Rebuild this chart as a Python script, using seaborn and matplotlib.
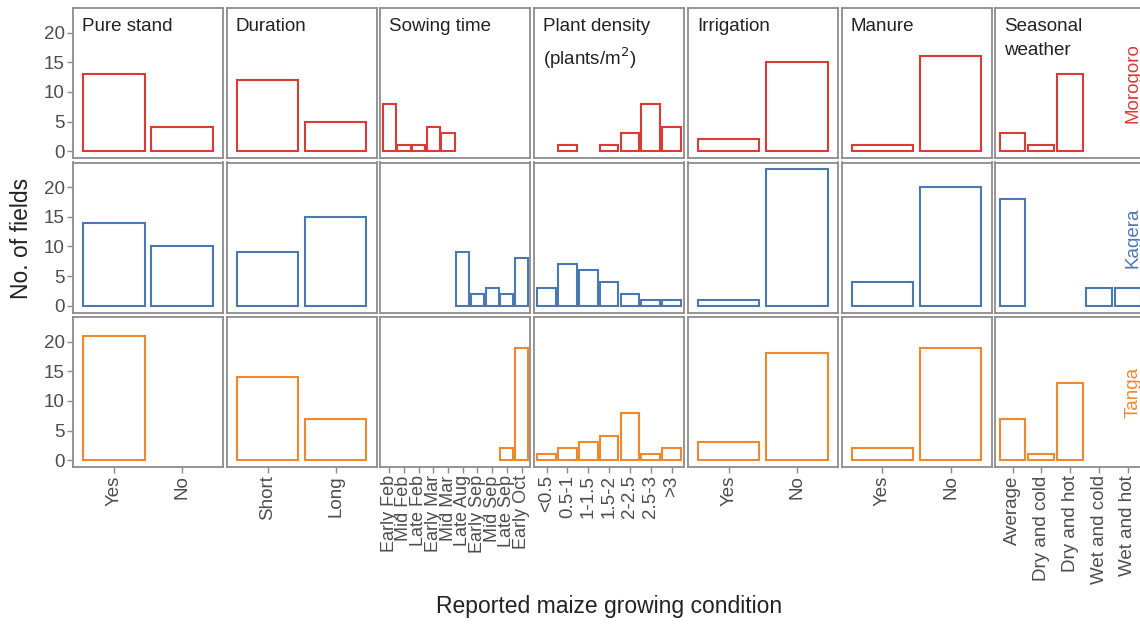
import numpy as np
import pandas as pd
import seaborn as sns
import matplotlib.pyplot as plt

# Regions (facet rows) and their colours
regions = ["Morogoro", "Kagera", "Tanga"]
region_colors = ["#D93B35", "#4A78B2", "#F0892E"]

# Growing conditions (facet columns)
conditions = ["Pure stand", "Duration", "Sowing time", "Plant density\n(plants/m$^2$)",
              "Irrigation", "Manure", "Seasonal\nweather"]

pure_stand_cats = ["Yes", "No"]
duration_cats = ["Short", "Long"]
sowing_cats = ["Early Feb", "Mid Feb", "Late Feb", "Early Mar", "Mid Mar",
               "Late Aug", "Early Sep", "Mid Sep", "Late Sep", "Early Oct"]
density_cats = ["<0.5", "0.5-1", "1-1.5", "1.5-2", "2-2.5", "2.5-3", ">3"]
irrigation_cats = ["Yes", "No"]
manure_cats = ["Yes", "No"]
weather_cats = ["Average", "Dry and cold", "Dry and hot", "Wet and cold", "Wet and hot"]

# Number of fields, per region (Morogoro, Kagera, Tanga)
pure_stand = {"Morogoro": [13, 4], "Kagera": [14, 10], "Tanga": [21, 0]}
duration = {"Morogoro": [12, 5], "Kagera": [9, 15], "Tanga": [14, 7]}
sowing = {"Morogoro": [8, 1, 1, 4, 3, 0, 0, 0, 0, 0],
          "Kagera": [0, 0, 0, 0, 0, 9, 2, 3, 2, 8],
          "Tanga": [0, 0, 0, 0, 0, 0, 0, 0, 2, 19]}
density = {"Morogoro": [0, 1, 0, 1, 3, 8, 4],
           "Kagera": [3, 7, 6, 4, 2, 1, 1],
           "Tanga": [1, 2, 3, 4, 8, 1, 2]}
irrigation = {"Morogoro": [2, 15], "Kagera": [1, 23], "Tanga": [3, 18]}
manure = {"Morogoro": [1, 16], "Kagera": [4, 20], "Tanga": [2, 19]}
weather = {"Morogoro": [3, 1, 13, 0, 0],
           "Kagera": [18, 0, 0, 3, 3],
           "Tanga": [7, 1, 13, 0, 0]}

col_cats = [pure_stand_cats, duration_cats, sowing_cats, density_cats,
            irrigation_cats, manure_cats, weather_cats]
col_vals = [pure_stand, duration, sowing, density, irrigation, manure, weather]

# long table
rows = []
for c, (cats, vals) in enumerate(zip(col_cats, col_vals)):
    for reg in regions:
        for cat, v in zip(cats, vals[reg]):
            rows.append({"condition": c, "region": reg, "category": cat, "count": v})
df = pd.DataFrame(rows)

sns.set_style("white")
plt.rcParams['font.family'] = ['Liberation Sans', 'DejaVu Sans']

W, H = 1140, 624
fig = plt.figure(figsize=(W / 100, H / 100), dpi=100)

frame_col = "#8C8C8C"
tick_col = "#4D4D4D"
row_tops = [8, 162.5, 317]
panel_h, panel_w = 150, 150

for r, reg in enumerate(regions):
    for c in range(len(conditions)):
        left = 73 + c * 153.7
        ax = fig.add_axes([left / W, 1 - (row_tops[r] + panel_h) / H, panel_w / W, panel_h / H])
        cats = col_cats[c]
        sub = df[(df.condition == c) & (df.region == reg) & (df["count"] > 0)]
        sns.barplot(data=sub, x="category", y="count", order=cats, color=region_colors[r],
                    fill=False, saturation=1, width=0.9, linewidth=1.5,
                    errorbar=None, ax=ax)
        ax.set_xlim(-0.6, len(cats) - 1 + 0.6)
        ax.set_ylim(-1.15, 24.15)
        ax.set_xlabel("")
        ax.set_ylabel("")
        for s in ax.spines.values():
            s.set_color(frame_col)
            s.set_linewidth(1.3)
        ax.set_yticks([0, 5, 10, 15, 20])
        ax.tick_params(colors=tick_col, labelsize=13.5, length=4, width=1,
                       direction="out", pad=2)
        ax.tick_params(axis="both", color=frame_col)
        if c == 0:
            ax.tick_params(axis="y", left=True, labelleft=True)
        else:
            ax.tick_params(axis="y", left=False, labelleft=False)
        if r == len(regions) - 1:
            ax.tick_params(axis="x", bottom=True, labelbottom=True)
            ax.set_xticks(range(len(cats)))
            fs = 13 if c == 2 else 13.5
            ax.set_xticklabels(cats, rotation=90, ha="center", va="top", fontsize=fs)
        else:
            ax.tick_params(axis="x", bottom=False, labelbottom=False)
        if r == 0:
            ax.text(0.06, 0.935, conditions[c], transform=ax.transAxes, ha="left", va="top",
                    fontsize=13.5, color="#222222", linespacing=1.55)
    fig.text(1133 / W, 1 - (row_tops[r] + panel_h / 2) / H, reg, rotation=90,
             ha="center", va="center", fontsize=13.5, color=region_colors[r])

fig.text(22 / W, 1 - 238 / H, "No. of fields", rotation=90, ha="center", va="center",
         fontsize=16.5, color="#222222")
fig.text(609 / W, 1 - 606 / H, "Reported maize growing condition", ha="center", va="center",
         fontsize=16.5, color="#222222")

fig.savefig("out.png", dpi=100)
